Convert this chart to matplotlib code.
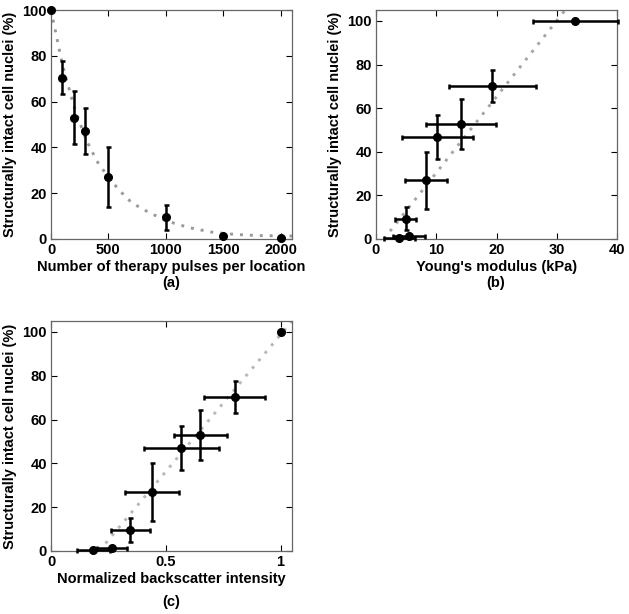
import numpy as np
import matplotlib
matplotlib.use("Agg")
import matplotlib.pyplot as plt

plt.rcParams['font.family'] = ['Liberation Sans', 'DejaVu Sans']
plt.rcParams['font.weight'] = 'bold'
plt.rcParams['font.size'] = 10.5

# shared y data (structurally intact cell nuclei, %)
intact = [100, 70.5, 53, 47, 27, 9.5, 1.4, 0.3]
intact_err = [0, 7.3, 11.5, 10, 13.2, 5.4, 0, 0]

# (a) number of pulses
pulses = [0, 100, 200, 300, 500, 1000, 1500, 2000]
fit_a_x = [0, 50, 100, 150, 200, 300, 400, 500, 600, 700, 800, 1000, 1200, 1400, 1600, 1800, 2100]
fit_a_y = [100, 88, 76, 67, 58, 44, 34, 27, 21, 16, 13, 8, 5, 3, 2, 1.5, 1.3]

# (b) young's modulus
youngs = [33.1, 19.3, 14.1, 10.2, 8.25, 4.9, 5.5, 3.9]
youngs_err = [7.1, 7.2, 5.85, 5.9, 3.5, 1.8, 2.6, 2.5]
intact_b = [100, 70.2, 52.6, 46.8, 26.9, 9.3, 1.2, 0.3]
fit_b_x = [1.3, 31.4]
fit_b_y = [0, 105]

# (c) normalized backscatter
backsc = [1.0, 0.80, 0.651, 0.568, 0.44, 0.345, 0.266, 0.185]
backsc_err = [0, 0.134, 0.117, 0.164, 0.116, 0.085, 0.065, 0.07]
fit_c_x = [0.21, 1.05]
fit_c_y = [0, 105]

W, H = 629, 614
fig = plt.figure(figsize=(W/100, H/100), dpi=100)

def mkax(l, r, t, b):
    return fig.add_axes([l/W, 1-b/H, (r-l)/W, (b-t)/H])

def style(ax):
    ax.tick_params(direction='in', top=True, right=True, length=4, width=0.8,
                   labelsize=10.5, pad=3)
    for s in ax.spines.values():
        s.set_color('#666666')
        s.set_linewidth(0.9)
    ax.set_ylabel('Structurally intact cell nuclei (%)', fontweight='bold', labelpad=4)

ebkw = dict(fmt='o', color='black', ms=5.5, elinewidth=1.8, capsize=1.8, capthick=1.8,
            ecolor='black', zorder=3, clip_on=False)
dotkw = dict(linestyle=(0, (1, 2.4)), linewidth=2.1, zorder=2)

# panel a
ax1 = mkax(51, 292, 10, 239)
ax1.plot(fit_a_x, fit_a_y, color='#999999', **dotkw)
ax1.errorbar(pulses, intact, yerr=intact_err, **ebkw)
ax1.set_xlim(0, 2100)
ax1.set_ylim(0, 100)
ax1.set_xticks([0, 500, 1000, 1500, 2000])
ax1.set_yticks([0, 20, 40, 60, 80, 100])
style(ax1)
ax1.set_xlabel('Number of therapy pulses per location', fontweight='bold', labelpad=2)
fig.text(171/W, 1-283/H, '(a)', ha='center', va='center', fontweight='bold')

# panel b
ax2 = mkax(376, 617, 10, 239)
ax2.plot(fit_b_x, fit_b_y, color='#a5a5a5', **dotkw)
ax2.errorbar(youngs, intact_b, xerr=youngs_err, yerr=intact_err, **ebkw)
ax2.set_xlim(0, 40)
ax2.set_ylim(0, 105)
ax2.set_xticks([0, 10, 20, 30, 40])
ax2.set_yticks([0, 20, 40, 60, 80, 100])
style(ax2)
ax2.set_xlabel("Young's modulus (kPa)", fontweight='bold', labelpad=2)
fig.text(496/W, 1-283/H, '(b)', ha='center', va='center', fontweight='bold')

# panel c
ax3 = mkax(51, 292, 321, 551)
ax3.plot(fit_c_x, fit_c_y, color='#b8b8b8', **dotkw)
ax3.errorbar(backsc, intact, xerr=backsc_err, yerr=intact_err, **ebkw)
ax3.set_xlim(0, 1.05)
ax3.set_ylim(0, 105)
ax3.set_xticks([0, 0.5, 1])
ax3.set_xticklabels(['0', '0.5', '1'])
ax3.set_yticks([0, 20, 40, 60, 80, 100])
style(ax3)
ax3.set_xlabel('Normalized backscatter intensity', fontweight='bold', labelpad=2)
fig.text(171/W, 1-602/H, '(c)', ha='center', va='center', fontweight='bold')

fig.savefig('out.png', dpi=100)
